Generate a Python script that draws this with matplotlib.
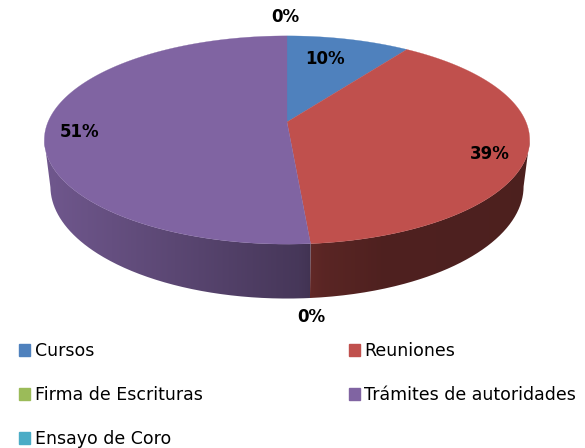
import numpy as np
from matplotlib import pyplot as plt
import matplotlib.patches as mpatches
from matplotlib.path import Path

categories = ['Cursos', 'Reuniones', 'Firma de Escrituras', 'Trámites de autoridades', 'Ensayo de Coro']
values = [9.7, 39.0, 0.0, 51.3, 0.0]
pct_labels = ['10%', '39%', '0%', '51%', '0%']

colors = ['#4f81bd', '#c0504d', '#9bbb59', '#8064a2', '#4bacc6']
label_pos = [(325, 59), (490, 154), (311, 317), (80, 132), (285, 17)]

# pie is a tilted disc, far side shrinks a bit
cx, cy = 287, 122
rx, ry, k = 239, 101, 0.173
depth = 45
low_scale = 0.975


def project(theta, drop=0.0, scale=1.0):
    # theta clockwise from 12 o'clock
    u, v = np.sin(theta), np.cos(theta)
    w = 1 + k * v
    return cx + scale * rx * u / w, cy - ry * v / w + drop / w


def wall_gradient(color):
    # side wall is lit from the left, dark front and right
    rgb = np.array(plt.matplotlib.colors.to_rgb(color))
    u = (np.arange(585) + 0.5 - cx) / rx
    f = np.interp(u, [-1, -0.5, 0.05, 0.15, 0.4, 1], [0.87, 0.72, 0.55, 0.47, 0.41, 0.40])
    return (rgb[None, None, :] * f[None, :, None])


fig = plt.figure(figsize=(5.85, 4.48), dpi=100)
ax = fig.add_axes([0, 0, 1, 1])

edges = np.cumsum([0] + values) / sum(values) * 2 * np.pi

# side wall first, from widest point to widest point
lo, hi = np.arccos(-k), 2 * np.pi - np.arccos(-k)
for i, color in enumerate(colors):
    start, end = max(edges[i], lo), min(edges[i + 1], hi)
    if end <= start:
        continue
    t = np.linspace(start, end, 200)
    x0, y0 = project(t)
    x1, y1 = project(t, depth, low_scale)
    verts = np.c_[np.r_[x0, x1[::-1]], np.r_[y0, y1[::-1]]]
    im = ax.imshow(wall_gradient(color), extent=(0, 585, 448, 0), aspect='auto', interpolation='bilinear')
    im.set_clip_path(Path(verts), ax.transData)

ax.set_xlim(0, 585)
ax.set_ylim(448, 0)
ax.axis('off')

# top face
for i, color in enumerate(colors):
    if values[i] == 0:
        continue
    t = np.linspace(edges[i], edges[i + 1], 200)
    x, y = project(t)
    ax.fill(np.r_[cx, x], np.r_[cy, y], facecolor=color, edgecolor=color, lw=0.2)

for text, (x, y) in zip(pct_labels, label_pos):
    ax.text(x, y, text, ha='center', va='center', fontsize=12, fontweight='bold',
            family='DejaVu Sans', color='black')

# matplotlib fills columns first
order = [0, 2, 4, 1, 3]
handles = [mpatches.Patch(color=colors[i], label=categories[i]) for i in order]
ax.legend(handles=handles, ncols=2, loc='upper left', bbox_to_anchor=(19 / 585, 1 - 342 / 448),
          frameon=False, prop={'family': 'DejaVu Sans', 'size': 12.5},
          handlelength=0.66, handleheight=0.66, handletextpad=0.25,
          labelspacing=1.5, columnspacing=8.4, borderpad=0, borderaxespad=0)

plt.savefig('out.png', dpi=100)
